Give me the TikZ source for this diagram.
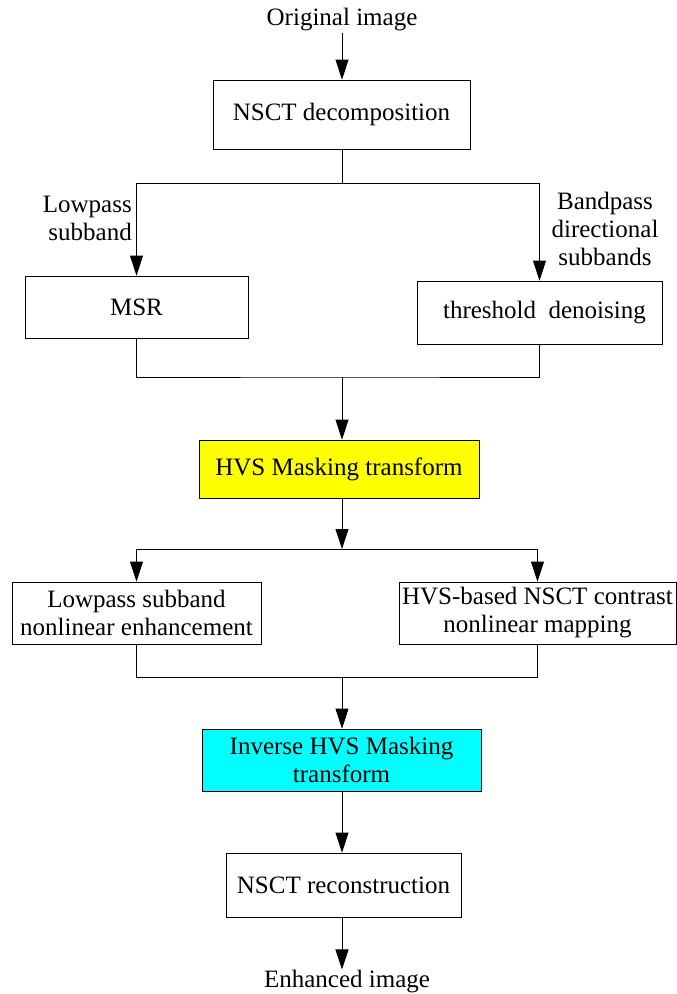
\documentclass[tikz,border=0pt]{standalone}
\usepackage{fontspec}
\setmainfont{Liberation Serif}
\newfontfamily\timesface{Liberation Serif}
\usepackage{tikz}
\usetikzlibrary{positioning, arrows.meta}
\definecolor{boxyellow}{RGB}{255,255,0}
\definecolor{boxcyan}{RGB}{0,255,255}
\tikzset{
x=1pt, y=-1pt, % one unit is one pixel of the reference
>={Triangle[length=20pt, width=13pt]}, % big filled arrow heads
every node/.style={font=\timesface\fontsize{25}{28}\selectfont},
block/.style={draw, line width=0.8pt, inner sep=0pt, align=center}, % plain box
freetext/.style={inner sep=1pt}, % text with no box
line/.style={line width=0.8pt},
}
\begin{document}
\begin{tikzpicture}
            \useasboundingbox (0,0) rectangle (677,994);
            % nodes
            \node[freetext] (orig) at (342,20) {Original image};
            \node[block, minimum width=257pt, minimum height=69pt] (nsct) at (341.5,114.5) {NSCT decomposition};
            \node[block, minimum width=223pt, minimum height=62pt] (msr) at (136.5,307) {MSR};
            \node[block, minimum width=245pt, minimum height=63pt] (thr) at (539.5,312.5) {\hspace*{10pt}threshold\ \ denoising};
            \node[block, fill=boxyellow, minimum width=280pt, minimum height=58pt] (hvs) at (339,469) {HVS Masking transform};
            \node[block, minimum width=249pt, minimum height=62pt] (lowenh) at (136.5,613) {Lowpass subband\\nonlinear enhancement};
            \node[block, minimum width=277pt, minimum height=62pt] (contrast) at (537.5,613) {HVS-based NSCT contrast\\nonlinear mapping};
            \node[block, fill=boxcyan, minimum width=279pt, minimum height=62pt] (inv) at (341.5,760) {Inverse HVS Masking\\transform};
            \node[block, minimum width=235pt, minimum height=64pt] (rec) at (343.5,885) {NSCT reconstruction};
            \node[freetext] (enh) at (347,982) {Enhanced image};
            \node[freetext, anchor=east, align=right] (lowlbl) at (133,218) {Lowpass\\subband};
            \node[freetext, align=center] (bandlbl) at (605,229) {Bandpass\\directional\\subbands};
            \coordinate (split1) at (342,183);
            \coordinate (join1) at (342,377);
            \coordinate (split2) at (342,549);
            \coordinate (join2) at (342,677);
            % connectors
            \draw[line, ->] (orig) -- (orig |- nsct.north);
            \draw[line] (nsct.south -| split1) -- (split1);
            \draw[line, ->] (split1) -| (msr);
            \draw[line, ->] (split1) -| (thr);
            \draw[line] (msr) |- (join1) -| (thr);
            \draw[line, ->] (join1) -- (join1 |- hvs.north);
            \draw[line, ->] (hvs.south -| split2) -- (split2);
            \draw[line, ->] (split2) -| (lowenh);
            \draw[line, ->] (split2) -| (contrast);
            \draw[line] (lowenh) |- (join2) -| (contrast);
            \draw[line, ->] (join2) -- (join2 |- inv.north);
            \draw[line, ->] (inv.south -| join2) -- (join2 |- rec.north);
            \draw[line, ->] (rec.south -| join2) -- (join2 |- enh.north);
\end{tikzpicture}
\end{document}
